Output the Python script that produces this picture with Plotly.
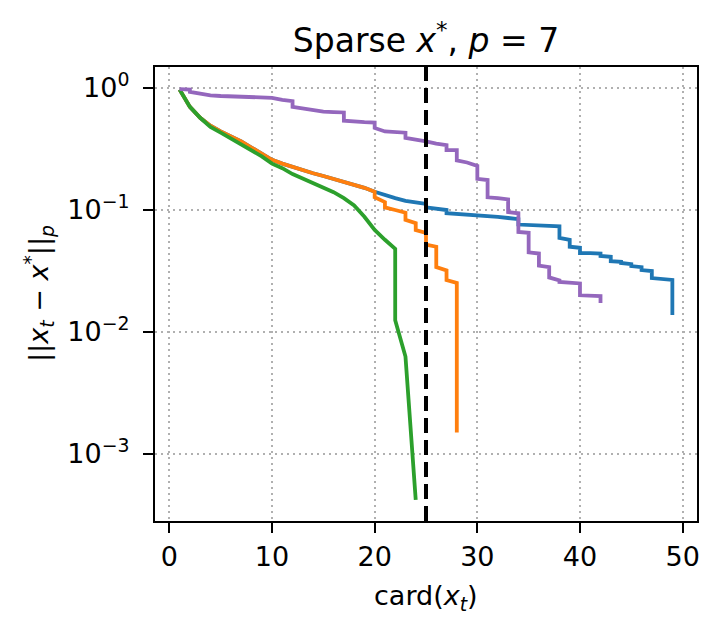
import plotly.graph_objects as go

# ---- data ----
orange_x = [1, 2, 3, 4, 5, 6, 7, 8, 9, 10, 11, 12, 13, 14, 15, 16, 17, 18, 19, 20, 20,
            21, 21, 22, 23, 23, 24, 24, 25, 25, 26, 26, 27, 27, 28, 28]
orange_y = [0.97, 0.70, 0.57, 0.49, 0.44, 0.40, 0.365, 0.325, 0.29, 0.258, 0.24, 0.225,
            0.212, 0.20, 0.19, 0.18, 0.171, 0.162, 0.152, 0.141, 0.127,
            0.116, 0.105, 0.100, 0.095, 0.083, 0.078, 0.0685, 0.0648, 0.052,
            0.050, 0.034, 0.032, 0.0267, 0.0252, 0.0015]

blue_x = [1, 2, 3, 4, 5, 6, 7, 8, 9, 10, 11, 12, 13, 14, 15, 16, 17, 18, 19, 20,
          21, 22, 23, 24, 25, 25, 26, 27, 27, 28, 29, 30, 31, 32, 33, 34, 34, 35, 36, 37,
          38, 38, 39, 39, 40, 40, 41, 42, 42, 43, 43, 44, 44, 45, 45, 46, 46, 47, 47,
          48, 49, 49]
blue_y = [0.97, 0.70, 0.57, 0.49, 0.44, 0.40, 0.365, 0.325, 0.29, 0.258, 0.24, 0.225,
          0.212, 0.20, 0.19, 0.18, 0.171, 0.162, 0.152, 0.141,
          0.132, 0.125, 0.119, 0.115, 0.112, 0.105, 0.102, 0.100, 0.094, 0.093, 0.092,
          0.091, 0.090, 0.088, 0.086, 0.084, 0.076, 0.075, 0.0745, 0.074,
          0.0735, 0.059, 0.057, 0.050, 0.049, 0.0444, 0.0443, 0.044, 0.042, 0.0413, 0.038,
          0.0376, 0.0368, 0.036, 0.0347, 0.034, 0.0322, 0.0316, 0.0277,
          0.027, 0.0267, 0.0138]

green_x = [1, 2, 3, 4, 5, 6, 7, 8, 9, 10, 11, 12, 13, 14, 15, 16, 17, 18, 19, 20, 21,
           22, 22, 23, 24]
green_y = [0.97, 0.70, 0.57, 0.48, 0.43, 0.385, 0.345, 0.305, 0.275, 0.24, 0.22, 0.197,
           0.18, 0.165, 0.152, 0.14, 0.125, 0.109, 0.088, 0.0686, 0.057,
           0.048, 0.0125, 0.0063, 0.00042]

purple_x = [1, 2, 2, 3, 4, 5, 6, 7, 8, 9, 10, 11, 12, 12, 13, 14, 15, 16, 17, 17, 18, 19,
            20, 20, 21, 22, 23, 23, 24, 25, 26, 27, 27, 28, 28, 29, 30, 30, 31, 31, 32,
            33, 33, 34, 34, 35, 35, 36, 36, 37, 37, 38, 38, 39, 40, 40, 41, 42, 42]
purple_y = [0.98, 0.97, 0.93, 0.90, 0.87, 0.86, 0.855, 0.85, 0.845, 0.84, 0.83, 0.80,
            0.78, 0.70, 0.68, 0.66, 0.64, 0.635, 0.63, 0.54, 0.53, 0.525,
            0.52, 0.47, 0.44, 0.435, 0.43, 0.39, 0.38, 0.365, 0.35, 0.34, 0.31,
            0.31, 0.255, 0.245, 0.23, 0.18, 0.176, 0.127, 0.125,
            0.122, 0.096, 0.094, 0.066, 0.065, 0.045, 0.044, 0.035, 0.034, 0.028,
            0.0265, 0.0257, 0.0255, 0.025, 0.020, 0.0198, 0.0197, 0.0173]

threshold = 25
x_ticks = [0, 10, 20, 30, 40, 50]
y_ticks = [1e0, 1e-1, 1e-2, 1e-3]
y_ticktext = ["10<sup>0</sup>", "10<sup>−1</sup>", "10<sup>−2</sup>", "10<sup>−3</sup>"]

FONT = "DejaVu Sans"
FS = 27
TFS = 33

fig = go.Figure()
series = [
    (blue_x, blue_y, "#1f77b4"),
    (orange_x, orange_y, "#ff7f0e"),
    (green_x, green_y, "#2ca02c"),
    (purple_x, purple_y, "#9467bd"),
]
for xs, ys, col in series:
    fig.add_trace(go.Scatter(x=xs, y=ys, mode="lines",
                             line=dict(color=col, width=3.8), showlegend=False))

fig.add_vline(x=threshold, line=dict(color="black", width=4, dash="15px,7px"),
              layer="above")

fig.update_layout(
    width=719, height=631,
    margin=dict(l=155, r=22, t=67, b=110),
    plot_bgcolor="white", paper_bgcolor="white",
    font=dict(family=FONT, size=FS, color="black"),
    title=dict(text="Sparse <i>x</i><sup>*</sup>, <i>p</i> = 7",
               x=0.5, xref="paper", xanchor="center",
               y=1 - 40 / 631, yref="container", yanchor="middle",
               font=dict(family=FONT, size=TFS, color="black")),
    showlegend=False,
)

fig.update_xaxes(
    range=[-1.4, 51.4], tickvals=x_ticks, ticks="outside", ticklen=10, tickwidth=2.2,
    tickcolor="black", showline=True, linecolor="black", linewidth=2.2, mirror=True,
    showgrid=True, gridcolor="#b0b0b0", griddash="2px,4px", gridwidth=1.8,
    zeroline=False, tickfont=dict(family=FONT, size=FS),
)
fig.update_yaxes(
    type="log", range=[-3.549, 0.172], tickvals=y_ticks, ticktext=y_ticktext,
    ticks="outside", ticklen=10, tickwidth=2.2, tickcolor="black",
    showline=True, linecolor="black", linewidth=2.2, mirror=True,
    showgrid=True, gridcolor="#b0b0b0", griddash="2px,4px", gridwidth=1.8,
    zeroline=False, tickfont=dict(family=FONT, size=FS), ticklabelstandoff=8,
)

fig.add_annotation(text="card(<i>x</i><sub><i>t</i></sub>)", xref="paper", yref="paper",
                   x=0.5, y=0, yanchor="middle", yshift=-76, showarrow=False,
                   font=dict(family=FONT, size=FS, color="black"))
fig.add_annotation(text="||<i>x</i><sub><i>t</i></sub> − <i>x</i><sup>*</sup>||<sub><i>p</i></sub>",
                   xref="paper", yref="paper", x=0, y=0.5, xanchor="center",
                   yanchor="middle", xshift=-117, textangle=-90, showarrow=False,
                   font=dict(family=FONT, size=FS, color="black"))

fig.write_html("out.html", config={"displayModeBar": False},
               post_script="document.body.style.margin='0';")
